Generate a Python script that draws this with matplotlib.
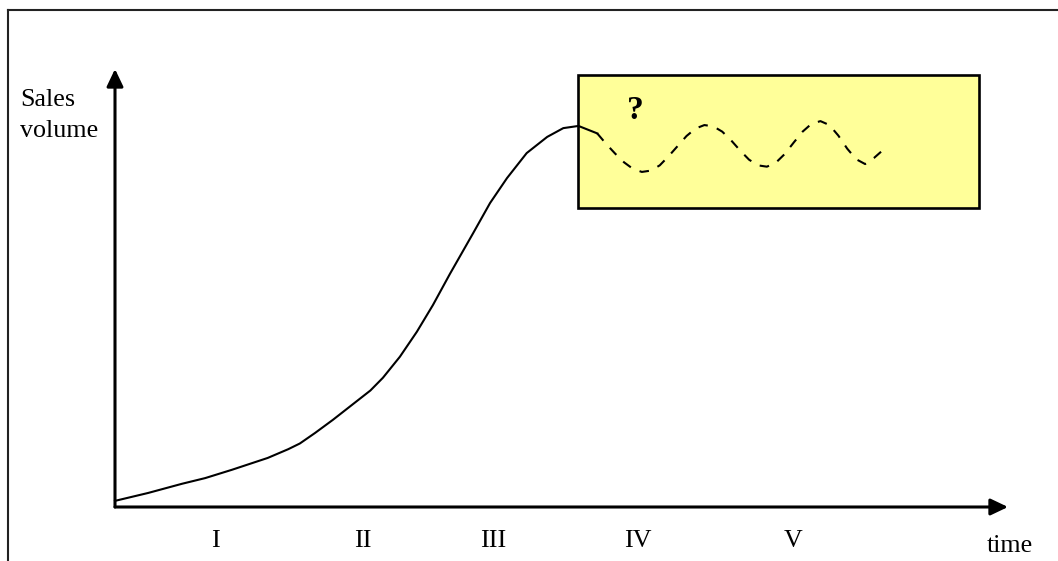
import matplotlib
matplotlib.use('Agg')
import matplotlib.pyplot as plt
from matplotlib.patches import Rectangle
from matplotlib.lines import Line2D

plt.rcParams['font.family'] = ['Liberation Serif', 'DejaVu Serif']

# product life cycle curve (time 0..100, sales 0..100)
time_solid = [0, 3.7, 7.5, 10.1, 13.1, 17.1, 19.4, 20.7, 22.4, 24.4, 28.6, 30.0,
              31.9, 33.8, 35.6, 37.5, 40.1, 42.0, 43.9, 46.1, 48.4, 50.2, 51.9, 54.0]
sales_solid = [1.4, 3.2, 5.3, 6.6, 8.5, 11.2, 13.2, 14.5, 16.9, 19.9, 26.6, 29.5,
               34.3, 40.0, 46.1, 53.2, 62.5, 69.4, 75.1, 80.8, 84.5, 86.5, 87.0, 85.3]

# uncertain future (dashed wave)
time_future = [54, 55, 56, 57, 58, 59, 60, 61, 62, 63, 64, 65, 66, 67, 68, 69, 70,
               71, 72, 73, 74, 75, 76, 77, 78, 79, 80, 81, 82, 83, 84, 85, 86]
sales_future = [85.3, 82.9, 80.7, 78.7, 77.2, 76.5, 76.8, 78.0, 80.1, 82.4, 84.7,
                86.4, 87.2, 86.9, 85.7, 83.7, 81.4, 79.3, 78.0, 77.7, 78.6, 80.6,
                83.2, 85.7, 87.5, 88.1, 87.2, 84.8, 81.8, 79.4, 78.3, 79.7, 81.5]

phase_labels = ['I', 'II', 'III', 'IV', 'V']
phase_pos = [11.2, 27.8, 42.4, 58.6, 75.9]

# pixel layout of the drawing
W, H = 1058, 561
X0, Y0 = 115, 507          # origin in pixels
PX_T, PX_S = 8.93, 4.38    # pixels per unit

fig = plt.figure(figsize=(W / 100, H / 100), dpi=100)
ax = fig.add_axes([0, 0, 1, 1])
ax.set_xlim(-X0 / PX_T, (W - X0) / PX_T)
ax.set_ylim(-(H - Y0) / PX_S, Y0 / PX_S)
ax.axis('off')

# frame (only top and left visible)
fig.add_artist(Line2D([8 / W, 1], [1 - 10 / H, 1 - 10 / H], color='#222222', lw=1.5))
fig.add_artist(Line2D([8 / W, 8 / W], [0, 1 - 10 / H], color='#222222', lw=1.5))

# yellow box
ax.add_patch(Rectangle((51.85, 68.3), 96.75 - 51.85, 98.6 - 68.3,
                       facecolor='#FFFF99', edgecolor='black', lw=1.9, zorder=1))

# axes arrows
arrow = dict(arrowstyle='-|>,head_length=1.05,head_width=0.5', color='black',
             lw=2.2, shrinkA=0, shrinkB=0, mutation_scale=10)
ax.annotate('', xy=(0, 100), xytext=(0, 0), arrowprops=arrow, zorder=3)
ax.annotate('', xy=(100, 0), xytext=(0, 0), arrowprops=arrow, zorder=3)

# curves
ax.plot(time_solid, sales_solid, color='black', lw=1.5, zorder=4)
ax.plot(time_future, sales_future, color='black', lw=1.5, dashes=(4.6, 4.6), zorder=4)

ax.text(58.3, 90.6, '?', fontsize=24, fontweight='bold', ha='center', va='center', zorder=5)

for lab, pos in zip(phase_labels, phase_pos):
    ax.text(pos, -9.1, lab, fontsize=18.7, ha='center', va='baseline')

ax.text(97.6, -10.3, 'time', fontsize=18.7, ha='left', va='baseline')
ax.text(-10.6, 91.5, 'Sales', fontsize=18.7, ha='left', va='baseline')
ax.text(-10.6, 84.5, 'volume', fontsize=18.7, ha='left', va='baseline')

plt.savefig('out.png', dpi=100)
plt.close()
